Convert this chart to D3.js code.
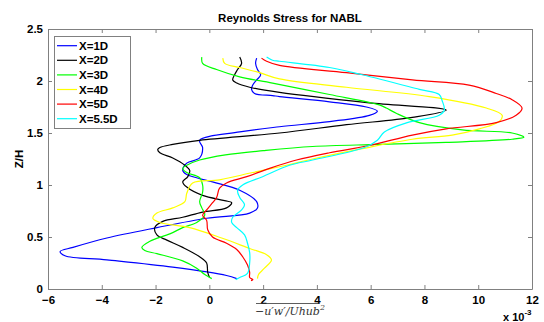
<!DOCTYPE html>
<html><head><meta charset="utf-8">
<script src="https://d3js.org/d3.v7.min.js"></script>
<style>body{margin:0;background:#fff}svg{display:block}</style>
</head><body><svg id="c" width="544" height="322"></svg>
<script>
const seriesNames = ["X=1D","X=2D","X=3D","X=4D","X=5D","X=5.5D"];
const seriesColors = ["#0000ff","#000000","#00ff00","#ffff00","#ff0000","#00ffff"];
const xTicks = [-6,-4,-2,0,2,4,6,8,10,12];
const yTicks = [0,0.5,1,1.5,2,2.5];
// [value (x 1e-3), Z/H]
const s1D = [[1.76,2.22],[1.72,2.17],[1.79,2.11],[1.91,2.06],[1.76,2.01],[1.61,1.96],[1.57,1.92],[1.68,1.88],[2.35,1.86],[2.61,1.85],[4.47,1.80],[5.84,1.75],[6.25,1.71],[5.95,1.67],[4.47,1.61],[2.61,1.56],[1.13,1.51],[-0.36,1.43],[-0.25,1.36],[-0.36,1.26],[-0.84,1.21],[-0.99,1.14],[-0.84,1.10],[0.12,1.03],[1.13,0.95],[1.76,0.84],[1.79,0.78],[1.50,0.73],[-0.10,0.68],[-1.95,0.59],[-3.81,0.49],[-5.07,0.40],[-5.55,0.36],[-5.37,0.32],[-3.81,0.28],[-1.36,0.21],[0.64,0.13],[1.02,0.10]];
const s2D = [[1.13,2.23],[1.20,2.17],[1.05,2.11],[0.94,2.06],[0.87,2.01],[1.02,1.98],[1.50,1.94],[2.61,1.89],[5.95,1.79],[8.81,1.72],[7.55,1.65],[5.10,1.58],[2.61,1.50],[-0.36,1.43],[-1.36,1.39],[-1.84,1.36],[-1.92,1.34],[-1.84,1.31],[-1.36,1.26],[-0.91,1.19],[-0.73,1.14],[-0.80,1.08],[-0.99,1.03],[-0.84,0.98],[-0.25,0.90],[0.57,0.85],[0.83,0.83],[0.64,0.78],[-0.25,0.74],[-0.99,0.69],[-1.73,0.65],[-2.03,0.59],[-1.95,0.52],[-1.58,0.47],[-0.99,0.40],[-0.36,0.31],[-0.10,0.25],[-0.06,0.16],[0.01,0.11]];
const s3D = [[-0.28,2.23],[-0.25,2.17],[0.27,2.11],[1.13,2.04],[2.35,1.98],[4.47,1.87],[6.32,1.77],[6.58,1.74],[6.95,1.69],[7.81,1.60],[9.40,1.53],[11.26,1.50],[11.70,1.46],[11.26,1.44],[8.81,1.41],[6.32,1.39],[3.84,1.37],[2.0,1.33],[0.6,1.29],[-0.36,1.24],[-0.84,1.19],[-0.99,1.16],[-0.84,1.12],[-0.36,1.07],[-0.25,1.00],[-0.25,0.93],[-0.36,0.84],[-0.28,0.78],[-0.17,0.71],[-0.47,0.64],[-0.99,0.59],[-1.47,0.53],[-2.21,0.46],[-2.51,0.40],[-2.40,0.37],[-1.95,0.34],[-0.99,0.27],[-0.47,0.20],[-0.17,0.14],[0.09,0.10]];
const s4D = [[0.50,2.22],[0.57,2.17],[1.13,2.13],[1.87,2.08],[2.61,2.02],[5.10,1.94],[8.18,1.85],[10.30,1.74],[10.89,1.67],[10.78,1.61],[10.04,1.54],[9.03,1.48],[7.55,1.44],[5.69,1.35],[3.84,1.25],[2.87,1.19],[1.61,1.12],[0.38,1.05],[-0.62,1.02],[-0.84,0.92],[-0.91,0.84],[-1.36,0.78],[-1.95,0.73],[-2.10,0.68],[-1.84,0.64],[-0.73,0.59],[0.46,0.49],[1.50,0.39],[2.13,0.33],[2.31,0.28],[2.05,0.20],[1.83,0.14],[1.79,0.10]];
const s5D = [[1.94,2.22],[2.13,2.19],[2.61,2.15],[5.10,2.08],[7.55,2.01],[9.66,1.96],[10.67,1.88],[11.26,1.82],[11.63,1.74],[11.41,1.67],[10.67,1.60],[8.81,1.54],[7.55,1.48],[5.95,1.38],[4.47,1.31],[3.24,1.24],[2.24,1.16],[1.39,1.08],[0.64,1.02],[0.38,0.97],[0.27,0.88],[0.12,0.83],[-0.10,0.76],[-0.25,0.71],[-0.10,0.66],[-0.06,0.57],[0.12,0.50],[0.64,0.44],[1.02,0.38],[1.24,0.31],[1.42,0.23],[1.50,0.16],[1.50,0.11],[1.62,0.09],[1.55,0.08]];
const s55D = [[2.13,2.23],[2.35,2.20],[2.61,2.19],[4.47,2.13],[5.69,2.06],[7.81,1.92],[8.55,1.87],[8.66,1.81],[8.74,1.72],[8.55,1.67],[7.36,1.60],[6.51,1.51],[6.25,1.43],[5.77,1.36],[3.84,1.24],[2.98,1.19],[1.98,1.08],[1.24,1.00],[1.05,0.95],[1.13,0.88],[1.31,0.81],[1.20,0.76],[0.87,0.69],[0.83,0.64],[1.02,0.59],[1.31,0.52],[1.42,0.44],[1.50,0.35],[1.50,0.25],[1.42,0.15],[1.13,0.11],[0.98,0.09]];
const allSeries = [s1D,s2D,s3D,s4D,s5D,s55D];

const svg = d3.select("#c");
const L=48,R=532,T=29,B=289;
const x = d3.scaleLinear().domain([-6,12]).range([L,R]);
const y = d3.scaleLinear().domain([0,2.5]).range([B,T]);
const axisCol = "#808080";
const font = "Liberation Sans, Arial, sans-serif";

svg.append("rect").attr("width",544).attr("height",322).attr("fill","#fff");

// curves
const line = d3.line().x(d=>x(d[0])).y(d=>y(d[1])).curve(d3.curveCatmullRom.alpha(0.5));
allSeries.forEach((s,i)=>{
  svg.append("path").datum(s).attr("d",line).attr("fill","none")
    .attr("stroke",seriesColors[i]).attr("stroke-width",1.2);
});

// axes with inward ticks
const gB = svg.append("g").attr("transform",`translate(0,${B})`)
  .call(d3.axisBottom(x).tickValues(xTicks).tickSizeInner(-4).tickSizeOuter(0).tickPadding(7).tickFormat(d3.format("d")));
const gT = svg.append("g").attr("transform",`translate(0,${T})`)
  .call(d3.axisTop(x).tickValues(xTicks).tickSizeInner(-4).tickSizeOuter(0).tickFormat(""));
const gL = svg.append("g").attr("transform",`translate(${L},0)`)
  .call(d3.axisLeft(y).tickValues(yTicks).tickSizeInner(-4).tickSizeOuter(0).tickPadding(5).tickFormat(d=>String(d)));
const gR = svg.append("g").attr("transform",`translate(${R},0)`)
  .call(d3.axisRight(y).tickValues(yTicks).tickSizeInner(-4).tickSizeOuter(0).tickFormat(""));
[gB,gT,gL,gR].forEach(g=>{
  g.selectAll("path.domain").attr("stroke",axisCol);
  g.selectAll(".tick line").attr("stroke",axisCol);
  g.selectAll("text").attr("fill","#000").attr("font-family",font).attr("font-weight","bold").attr("font-size",11.5);
});

// title
svg.append("text").attr("x",(L+R)/2).attr("y",22).attr("text-anchor","middle")
  .attr("font-family",font).attr("font-weight","bold").attr("font-size",11.5).text("Reynolds Stress for NABL");
// y label
svg.append("text").attr("transform",`translate(23,${(T+B)/2}) rotate(-90)`).attr("text-anchor","middle")
  .attr("font-family",font).attr("font-weight","bold").attr("font-size",11.5).text("Z/H");
// x label (TeX-like)
const xl = svg.append("text").attr("x",(L+R)/2).attr("y",315).attr("text-anchor","middle")
  .attr("font-family","DejaVu Serif, serif").attr("font-style","italic").attr("font-size",11).attr("fill","#333");
xl.append("tspan").text("\u2212u\u2032w\u2032/Uhub");
xl.append("tspan").attr("dy",-5).attr("font-size",8).text("2");
const bb = xl.node().getBBox();
svg.append("line").attr("x1",bb.x+1).attr("x2",bb.x+bb.width-6).attr("y1",303.5).attr("y2",303.5).attr("stroke","#333").attr("stroke-width",0.8);
// exponent
const ex = svg.append("text").attr("x",503).attr("y",320.5).attr("font-family",font).attr("font-weight","bold").attr("font-size",11);
ex.append("tspan").text("x 10");
ex.append("tspan").attr("dy",-5.5).attr("font-size",8).text("-3");

// legend
const lg = svg.append("g");
lg.append("rect").attr("x",54.5).attr("y",36.5).attr("width",76).attr("height",92).attr("fill","#fff").attr("stroke",axisCol);
seriesNames.forEach((n,i)=>{
  const cy = 45.7 + i*14.6;
  lg.append("line").attr("x1",57).attr("x2",77).attr("y1",cy).attr("y2",cy).attr("stroke",seriesColors[i]).attr("stroke-width",1.2);
  lg.append("text").attr("x",79).attr("y",cy+4).attr("font-family",font).attr("font-weight","bold").attr("font-size",11.5).text(n);
});
</script></body></html>
